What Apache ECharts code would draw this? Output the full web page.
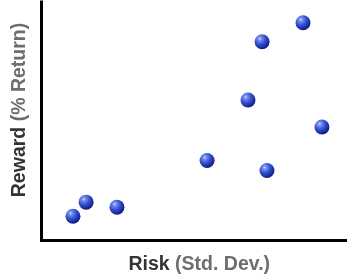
<!DOCTYPE html>
<html>
<head>
<meta charset="utf-8">
<script src="https://cdn.jsdelivr.net/npm/echarts@6/dist/echarts.min.js"></script>
<style>
html,body{margin:0;padding:0;background:#fff;}
#c{width:347px;height:280px;}
</style>
</head>
<body>
<div id="c"></div>
<script>
// Risk (x) and Reward (y) for each portfolio, arbitrary 0-100 units
var riskValues   = [85.6, 72.2, 67.6, 91.8, 54.2, 73.8, 14.6, 24.7, 10.3];
var rewardValues = [91.3, 83.3, 58.8, 47.5, 33.4, 29.2, 15.9, 13.8, 10.0];
var xTitleMain = 'Risk', xTitleSub = '(Std. Dev.)';
var yTitleMain = 'Reward', yTitleSub = '(% Return)';

var points = riskValues.map(function (r, i) { return [r, rewardValues[i]]; });

var sphere = new echarts.graphic.RadialGradient(0.35, 0.3, 0.75, [
  {offset: 0, color: '#d0daff'},
  {offset: 0.15, color: '#7790f2'},
  {offset: 0.5, color: '#3350cc'},
  {offset: 0.85, color: '#17269c'},
  {offset: 1, color: '#0c1668'}
]);

var chart = echarts.init(document.getElementById('c'), null, {renderer: 'canvas'});
var nameStyle = {
  fontFamily: 'Liberation Sans, Arial, sans-serif',
  fontSize: 19.5,
  fontWeight: 'bold',
  rich: {
    a: {fontFamily: 'Liberation Sans, Arial, sans-serif', fontSize: 19.5, fontWeight: 'bold', color: '#333333'},
    b: {fontFamily: 'Liberation Sans, Arial, sans-serif', fontSize: 19.5, fontWeight: 'bold', color: '#6e6e6e'}
  }
};
var axisCommon = {
  type: 'value', min: 0, max: 100,
  axisLine: {show: true, lineStyle: {color: '#000', width: 3, cap: 'square'}},
  axisTick: {show: false}, axisLabel: {show: false}, splitLine: {show: false},
  nameLocation: 'middle'
};
chart.setOption({
  animation: false,
  backgroundColor: '#fff',
  grid: {left: 41.5, right: 0, top: 2, bottom: 37.8},
  xAxis: Object.assign({}, axisCommon, {
    name: '{a|' + xTitleMain + '} {b|' + xTitleSub + '}',
    nameGap: 15,
    nameTextStyle: Object.assign({}, nameStyle, {padding: [0, 0, 0, 10]})
  }),
  yAxis: Object.assign({}, axisCommon, {
    name: '{a|' + yTitleMain + '} {b|' + yTitleSub + '}',
    nameGap: 12,
    nameTextStyle: Object.assign({}, nameStyle, {padding: [0, 0, 0, 22]})
  }),
  series: [{
    type: 'scatter',
    data: points,
    symbol: 'circle',
    symbolSize: 15,
    itemStyle: {color: sphere, opacity: 1}
  }]
});
</script>
</body>
</html>
